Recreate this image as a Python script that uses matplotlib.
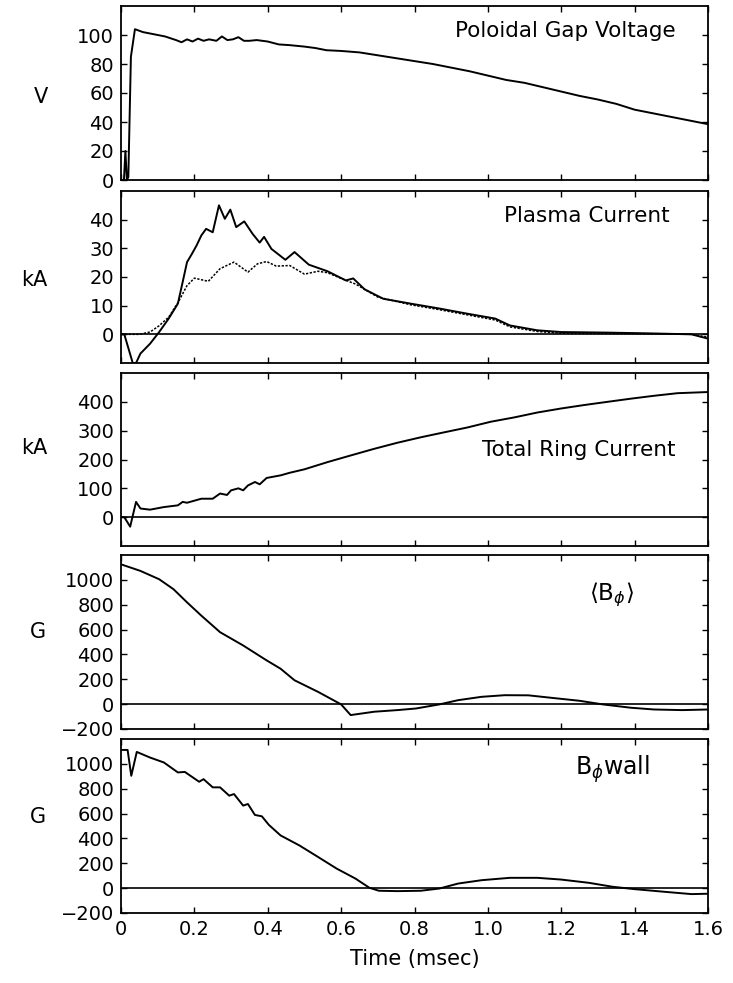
import matplotlib
matplotlib.use("Agg")
import matplotlib.pyplot as plt
import numpy as np

# ---------------- data ----------------
# Poloidal gap voltage (V)
t_volt = [0, 0.008, 0.012, 0.016, 0.02, 0.027, 0.038, 0.06, 0.09, 0.12, 0.15, 0.165, 0.18,
          0.195, 0.21, 0.225, 0.24, 0.26, 0.275, 0.29, 0.305, 0.32, 0.335, 0.35, 0.37, 0.4,
          0.43, 0.46, 0.5, 0.53, 0.56, 0.6, 0.65, 0.7, 0.75, 0.8, 0.85, 0.9, 0.95, 1.0, 1.05,
          1.1, 1.15, 1.2, 1.25, 1.3, 1.35, 1.4, 1.45, 1.5, 1.55, 1.6]
v_volt = [0, 0, 20, 0, 2, 85, 104, 102, 100.5, 99, 96.5, 95, 97, 95.5, 97.5, 96, 97, 96, 99,
          96.5, 97, 98.5, 96, 96, 96.5, 95.5, 93.5, 93, 92, 91, 89.5, 89, 88, 86, 84, 82, 80,
          77.5, 75, 72, 69, 67, 64, 61, 58, 55.5, 52.5, 48.5, 46, 43.5, 41, 38.5]

# Plasma current (kA), solid trace
t_ip1 = [0, 0.009, 0.032, 0.041, 0.053, 0.079, 0.104, 0.13, 0.155, 0.168, 0.18, 0.193, 0.206,
         0.219, 0.232, 0.25, 0.267, 0.283, 0.298, 0.314, 0.336, 0.359, 0.378, 0.39, 0.41,
         0.448, 0.473, 0.512, 0.563, 0.613, 0.633, 0.664, 0.715, 0.79, 0.868, 0.944, 1.02,
         1.06, 1.135, 1.2, 1.326, 1.453, 1.555, 1.6]
v_ip1 = [0, 0, -10, -10, -6.7, -3.3, 0.8, 5.5, 10.7, 18.2, 25.2, 28, 31, 34.5, 36.8, 35.6, 45,
         40.3, 43.5, 37.4, 39.4, 35, 32, 34, 29.8, 26, 28.7, 24.3, 22, 18.8, 19.5, 15.7, 12.4,
         10.7, 9, 7.2, 5.5, 3.1, 1.4, 0.8, 0.6, 0.3, 0, -1.5]
# Plasma current (kA), dotted trace
t_ip2 = [0.0, 0.05, 0.079, 0.104, 0.13, 0.155, 0.18, 0.2, 0.238, 0.27, 0.308, 0.346, 0.372,
         0.397, 0.423, 0.46, 0.5, 0.537, 0.563, 0.6, 0.64, 0.7, 0.79, 0.868, 0.944, 1.02,
         1.06, 1.135, 1.2, 1.326, 1.453, 1.555, 1.6]
v_ip2 = [0, 0, 0.8, 3, 6, 11, 17, 19.6, 18.5, 22.9, 25.2, 21.7, 24.6, 25.4, 23.8, 24, 21, 22,
         21.5, 19.5, 17.5, 13, 10.3, 8.6, 6.8, 5, 2.6, 1.0, 0.4, 0.3, 0.2, 0, -1]

# Total ring current (kA)
t_ring = [0, 0.009, 0.025, 0.041, 0.053, 0.079, 0.117, 0.155, 0.168, 0.18, 0.219, 0.25, 0.27,
          0.289, 0.3, 0.32, 0.333, 0.346, 0.365, 0.378, 0.397, 0.435, 0.46, 0.5, 0.563, 0.626,
          0.69, 0.753, 0.817, 0.88, 0.944, 1.008, 1.072, 1.135, 1.2, 1.263, 1.326, 1.39,
          1.453, 1.517, 1.6]
v_ring = [0, 0, -33, 53, 30, 26, 35, 41, 53, 50, 64, 64, 82, 77, 93, 100, 93, 110, 122, 114,
          136, 145, 154, 166, 191, 214, 237, 258, 277, 294, 311, 331, 346, 363, 377, 389, 400,
          411, 421, 430, 434]

# <B_phi> (G)
t_bavg = [0, 0.053, 0.104, 0.143, 0.18, 0.219, 0.27, 0.333, 0.397, 0.435, 0.473, 0.537, 0.6,
          0.626, 0.69, 0.753, 0.804, 0.868, 0.919, 0.983, 1.046, 1.11, 1.173, 1.25, 1.313,
          1.39, 1.453, 1.53, 1.6]
v_bavg = [1125, 1072, 1005, 925, 819, 712, 579, 472, 352, 285, 192, 99, -2, -88, -61, -48,
          -35, -2, 32, 59, 72, 71, 51, 27, -2, -29, -43, -48, -43]

# B_phi wall (G)
t_bwall = [0, 0.018, 0.028, 0.043, 0.079, 0.117, 0.155, 0.174, 0.213, 0.225, 0.25, 0.27,
           0.295, 0.308, 0.333, 0.346, 0.365, 0.384, 0.403, 0.435, 0.486, 0.537, 0.588,
           0.639, 0.677, 0.703, 0.753, 0.817, 0.868, 0.919, 0.983, 1.06, 1.135, 1.2, 1.275,
           1.34, 1.4, 1.48, 1.555, 1.6]
v_bwall = [1112, 1112, 904, 1096, 1051, 1011, 931, 935, 856, 877, 811, 811, 744, 757, 664,
           677, 589, 578, 509, 424, 344, 251, 157, 77, 3, -21, -24, -21, -3, 37, 64, 83, 83,
           69, 43, 11, -8, -29, -48, -45]

units = ["V", "kA", "kA", "G", "G"]
titles = ["Poloidal Gap Voltage", "Plasma Current", "Total Ring Current",
          r"$\langle\mathrm{B}_{\phi}\rangle$", r"$\mathrm{B}_{\phi}$wall"]
ylims = [(0, 120), (-10, 50), (-100, 500), (-200, 1200), (-200, 1200)]
yticks = [[0, 20, 40, 60, 80, 100], [0, 10, 20, 30, 40], [0, 100, 200, 300, 400],
          [-200, 0, 200, 400, 600, 800, 1000], [-200, 0, 200, 400, 600, 800, 1000]]
xticks = [0, 0.2, 0.4, 0.6, 0.8, 1.0, 1.2, 1.4, 1.6]
xtick_labels = ["0", "0.2", "0.4", "0.6", "0.8", "1.0", "1.2", "1.4", "1.6"]

# ---------------- figure ----------------
plt.rcParams['font.family'] = ['DejaVu Sans']
plt.rcParams['mathtext.fontset'] = 'dejavusans'
fig = plt.figure(figsize=(7.33, 9.83), dpi=100)
W, H = 733.0, 983.0
panels_px = [(6, 180), (191, 363), (373, 546), (555, 729), (739, 913)]
left_px, right_px = 121, 708
label_pos = [(41, 97), (34, 280), (34, 448), (38, 632), (38, 817)]
title_pos = [(0.944, 0.822, 'right', 15.5), (0.935, 0.82, 'right', 15.5),
             (0.944, 0.52, 'right', 15.5), (0.797, 0.741, 'left', 16.5),
             (0.773, 0.793, 'left', 17)]

axes = []
for i, (top, bot) in enumerate(panels_px):
    ax = fig.add_axes([left_px / W, 1 - bot / H, (right_px - left_px) / W, (bot - top) / H])
    axes.append(ax)
    ax.set_xlim(0, 1.6)
    ax.set_ylim(*ylims[i])
    ax.set_yticks(yticks[i])
    ax.set_xticks(xticks)
    ax.tick_params(direction='in', top=True, right=True, length=4.5, width=1.0,
                   labelsize=14, pad=5)
    for s in ax.spines.values():
        s.set_linewidth(1.3)
    if i < 4:
        ax.set_xticklabels([])
    else:
        ax.set_xticklabels(xtick_labels)
        ax.set_xlabel("Time (msec)", fontsize=15, labelpad=7)
    if i > 0:
        ax.axhline(0, color='black', lw=1.2)
    fig.text(label_pos[i][0] / W, 1 - label_pos[i][1] / H, units[i], fontsize=15,
             ha='center', va='center')
    tx, ty, ha, fs = title_pos[i]
    ax.text(tx, ty, titles[i], transform=ax.transAxes, fontsize=fs, ha=ha, va='baseline')

axes[0].plot(t_volt, v_volt, color='black', lw=1.4)
axes[1].plot(t_ip2, v_ip2, color='black', lw=1.1, linestyle=(0, (1.5, 1)))
axes[1].plot(t_ip1, v_ip1, color='black', lw=1.4)
axes[2].plot(t_ring, v_ring, color='black', lw=1.4)
axes[3].plot(t_bavg, v_bavg, color='black', lw=1.4)
axes[4].plot(t_bwall, v_bwall, color='black', lw=1.4)

fig.savefig("out.png", dpi=100)
